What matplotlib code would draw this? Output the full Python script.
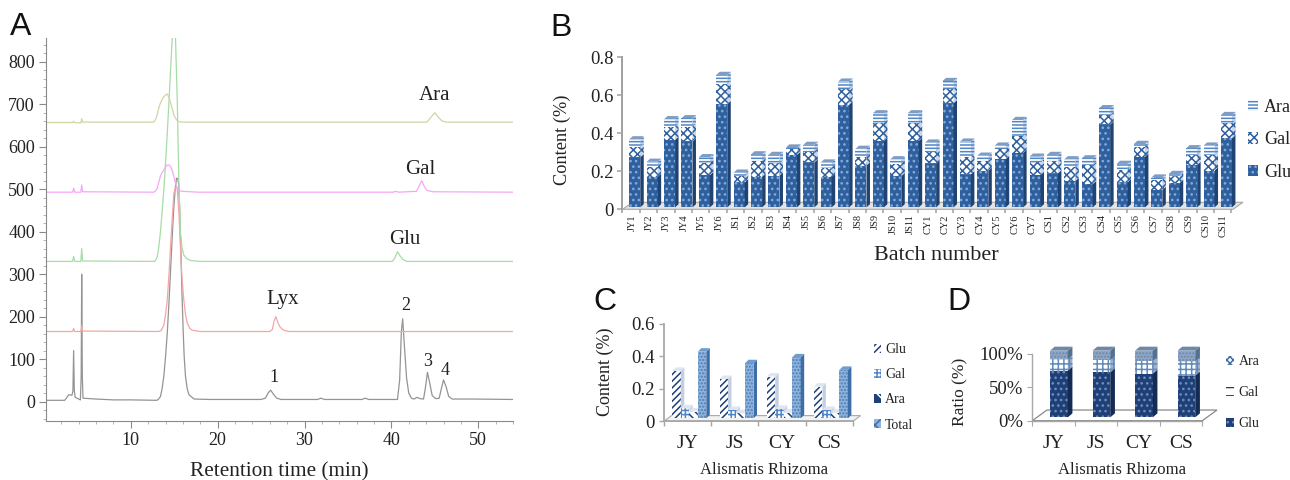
#!/usr/bin/env python3
import matplotlib
matplotlib.use("Agg")
import matplotlib.pyplot as plt
from matplotlib.patches import Patch
from matplotlib.ticker import MultipleLocator

W, H = 1290, 480
plt.rcParams["font.family"] = ["Liberation Serif", "DejaVu Serif"]
plt.rcParams["hatch.linewidth"] = 1.1
TXT = "#222222"

# --- A: chromatograms (retention time / response)
grey_t = [0.3, 2.4, 2.85, 3.23, 3.34, 3.42, 3.5, 3.6, 4.2, 4.29, 4.35, 4.42, 4.5, 6, 8, 10, 13, 13.2, 13.42, 13.6, 13.8, 14.0, 14.2, 14.4, 14.6, 14.8, 14.96, 15.12, 15.27, 15.42, 15.54, 15.63, 15.73, 15.88, 16.04, 16.15, 16.3, 16.5, 16.7, 17.3, 19, 25, 25.5, 25.8, 26.1, 26.4, 26.8, 27.3, 31.5, 31.9, 32.3, 36.6, 37, 37.4, 40.7, 40.95, 41.15, 41.3, 41.5, 41.75, 42, 42.3, 42.6, 42.95, 43.3, 43.7, 43.9, 44.15, 44.4, 44.7, 45.1, 45.5, 45.75, 46, 46.3, 46.6, 47, 49.4, 54]
grey_v = [3, 3, 16, 15, 25, 120, 25, 10, 4, 60, 300, 60, 8, 6, 4, 4, 3, 6, 12, 30, 59, 105, 161, 235, 318, 400, 459, 502, 526, 525, 506, 450, 380, 265, 161, 105, 59, 30, 16, 6, 5, 5, 8, 20, 27, 18, 8, 5, 5, 8, 5, 5, 8, 5, 5, 50, 165, 195, 130, 55, 20, 8, 6, 10, 7, 6, 30, 69, 45, 14, 7, 8, 30, 51, 35, 12, 6, 6, 5]
red_t = [0.3, 3.3, 3.42, 3.55, 4.25, 4.35, 4.45, 13.2, 13.5, 13.8, 14.0, 14.2, 14.4, 14.6, 14.8, 14.96, 15.15, 15.35, 15.55, 15.73, 15.9, 16.1, 16.3, 16.5, 16.8, 17.1, 18, 26, 26.3, 26.5, 26.7, 26.95, 27.2, 27.6, 28.2, 54]
red_v = [165, 165, 172, 165, 165, 178, 166, 165, 167, 180, 205, 240, 300, 373, 440, 490, 505, 502, 440, 357, 290, 240, 205, 185, 172, 168, 165, 165, 170, 190, 200, 185, 175, 168, 165, 165]
green_t = [0.3, 3.3, 3.42, 3.55, 4.25, 4.35, 4.45, 12.73, 12.9, 13.04, 13.2, 13.4, 13.6, 13.8, 14.0, 14.2, 14.4, 14.6, 14.77, 14.95, 15.15, 15.35, 15.54, 15.73, 15.9, 16.1, 16.4, 16.9, 18, 40.1, 40.4, 40.7, 41, 41.3, 41.8, 54]
green_v = [330, 330, 342, 330, 330, 360, 331, 330, 334, 341, 360, 396, 445, 498, 562, 632, 708, 789, 855, 900, 855, 710, 514, 396, 362, 345, 337, 332, 330, 330, 338, 353, 343, 335, 330, 330]
pink_t = [0.3, 3.3, 3.42, 3.55, 4.25, 4.35, 4.45, 12.65, 12.85, 13.04, 13.2, 13.4, 13.6, 13.8, 14.0, 14.2, 14.4, 14.6, 14.8, 14.96, 15.15, 15.35, 15.6, 15.9, 17.8, 40.2, 40.5, 40.8, 42.9, 43.2, 43.5, 43.8, 44.1, 44.8, 54]
pink_v = [493, 493, 502, 493, 493, 510, 494, 493, 496, 502, 515, 530, 539, 545, 552, 557, 557, 553, 542, 530, 514, 502, 497, 495, 493, 493, 495, 493, 495, 508, 520, 506, 497, 494, 493]
olive_t = [0.3, 3.3, 3.42, 3.55, 4.25, 4.35, 4.45, 12.65, 12.85, 13.04, 13.2, 13.4, 13.6, 13.8, 14.0, 14.2, 14.4, 14.6, 14.8, 14.96, 15.15, 15.35, 15.6, 15.9, 44.1, 44.5, 45, 45.4, 45.8, 46.3, 54]
olive_v = [657, 657, 660, 657, 656, 666, 658, 658, 664, 675, 690, 702, 711, 718, 722, 724, 716, 702, 688, 675, 667, 661, 659, 658, 658, 668, 680, 670, 661, 658, 658]

# --- B: batches
batches = ["JY1", "JY2", "JY3", "JY4", "JY5", "JY6",
           "JS1", "JS2", "JS3", "JS4", "JS5", "JS6", "JS7", "JS8", "JS9", "JS10", "JS11",
           "CY1", "CY2", "CY3", "CY4", "CY5", "CY6", "CY7",
           "CS1", "CS2", "CS3", "CS4", "CS5", "CS6", "CS7", "CS8", "CS9", "CS10", "CS11"]
b_glu = [.274, .172, .365, .358, .180, .554, .142, .172, .177, .286, .247, .172, .551, .230, .360, .175, .360,
         .242, .558, .184, .204, .265, .298, .181, .189, .149, .133, .447, .142, .277, .102, .140, .233, .204, .374]
b_gal = [.056, .053, .070, .077, .066, .106, .033, .084, .065, .034, .057, .047, .081, .047, .093, .065, .093,
         .062, .074, .093, .052, .053, .088, .066, .064, .076, .100, .049, .065, .053, .052, .037, .053, .082, .079]
b_ara = [.038, .025, .039, .044, .028, .047, .018, .033, .044, .005, .035, .027, .040, .041, .052, .023, .052,
         .047, .043, .079, .026, .017, .084, .030, .033, .038, .035, .036, .032, .014, .013, .009, .035, .049, .043]

# --- C / D: regions
regions = ["JY", "JS", "CY", "CS"]
c_glu = [.31, .26, .275, .213]
c_gal = [.08, .07, .076, .07]
c_ara = [.06, .05, .053, .053]
c_total = [.428, .357, .393, .316]
d_glu = [70, 67.5, 65.5, 62.5]
d_gal = [17, 18.5, 19, 21.5]
d_ara = [13, 14, 15.5, 16]


def px_axes(fig, left, top, right, bottom):
    ax = fig.add_axes([left / W, 1 - bottom / H, (right - left) / W, (bottom - top) / H])
    ax.patch.set_alpha(0)
    return ax


def bar3d(ax, x, h, bottom, width, dx, dy, face, side, top, hatch=None, hcol="white", side_hatch=None):
    ax.bar(x, h, width=width, bottom=bottom, align="edge", color=face, edgecolor=hcol,
           hatch=hatch, linewidth=0, clip_on=False, zorder=3)
    for xi, hi, bi in zip(x, h, bottom):
        y0, y1 = bi, bi + hi
        xr = xi + width
        ax.fill([xr, xr + dx, xr + dx, xr], [y0, y0 + dy, y1 + dy, y1], facecolor=side,
                edgecolor=hcol, hatch=side_hatch, linewidth=0, clip_on=False, zorder=3)
        ax.fill([xi, xi + dx, xr + dx, xr], [y1, y1 + dy, y1 + dy, y1], facecolor=top,
                linewidth=0, clip_on=False, zorder=3)


def stack(*series):
    out, cum = [], None
    for s in series:
        if cum is None:
            cum = [0.0] * len(s)
        out.append(list(cum))
        cum = [a + b for a, b in zip(cum, s)]
    return out


def floor(ax, x0, x1, dx, dy, face, edge, lw=0.8):
    ax.fill([x0, x1, x1 + dx, x0 + dx], [0, 0, dy, dy], facecolor=face, edgecolor=edge,
            linewidth=lw, clip_on=False, zorder=1)


def style_bar_axes(ax, color, lw):
    for s in ("top", "right"):
        ax.spines[s].set_visible(False)
    for s in ("left", "bottom"):
        ax.spines[s].set_color(color)
        ax.spines[s].set_linewidth(lw)
    ax.tick_params(which="major", color=color, width=lw * 0.8, length=3.5, labelcolor=TXT)


fig = plt.figure(figsize=(W / 100, H / 100), dpi=100, facecolor="white")

# ------------------------------------------------------------------ A
ax = px_axes(fig, 46, 38, 513, 420.7)
for t, v, c in ((grey_t, grey_v, "#949494"), (red_t, red_v, "#f4a6a6"), (green_t, green_v, "#a6dca6"),
                (pink_t, pink_v, "#f7a6f7"), (olive_t, olive_v, "#d3d4a4")):
    ax.plot(t, v, color=c, lw=0.9)
ax.set_xlim(0.24, 54)
ax.set_ylim(-45, 856)
ax.xaxis.set_major_locator(MultipleLocator(10))
ax.xaxis.set_minor_locator(MultipleLocator(2))
ax.yaxis.set_major_locator(MultipleLocator(100))
ax.yaxis.set_minor_locator(MultipleLocator(20))
for s in ("top", "right"):
    ax.spines[s].set_visible(False)
for s in ("left", "bottom"):
    ax.spines[s].set_color("#8a8a8a")
ax.tick_params(which="major", length=5, color="#8a8a8a", labelsize=13, labelcolor=TXT, pad=3)
ax.tick_params(which="minor", length=2.5, color="#a8a8a8")
for txt, x, y in (("Ara", 45, 721), ("Gal", 43.3, 546), ("Glu", 41.5, 381), ("Lyx", 27.5, 240)):
    ax.text(x, y, txt, ha="center", va="center", fontsize=15, color=TXT)
for txt, x, y in (("1", 26.5, 57), ("2", 41.6, 226), ("3", 44.2, 94), ("4", 46.2, 73)):
    ax.text(x, y, txt, ha="center", va="center", fontsize=13, color=TXT)
fig.text(279 / W, 1 - 472 / H, "Retention time (min)", ha="center", va="center", fontsize=15.3, color=TXT)

# ------------------------------------------------------------------ B
ax = px_axes(fig, 622.3, 57.3, 1243, 209.3)
pitch = 17.41
ax.set_xlim(-(629 - 622.3) / pitch, (1243 - 629) / pitch)
ax.set_ylim(0, 0.8)
pos = list(range(len(batches)))
wb, dxb, dyb = 11 / pitch, 3.5 / pitch, 3.2 / 190
base_b = 0.01
floor(ax, ax.get_xlim()[0], (1233 - 629) / pitch, 10 / pitch, 7 / 190, "#e4e4e4", "#a8a8a8")
starts = stack(b_glu, b_gal, b_ara)
bot = [[max(base_b, s) for s in st] for st in starts]
hgt_glu = [g - base_b for g in b_glu]
bar3d(ax, pos, hgt_glu, bot[0], wb, dxb, dyb, "#2e5f9e", "#1f4372", "#6f90bd", hatch="...", hcol="#86a9d4")
bar3d(ax, pos, b_gal, bot[1], wb, dxb, dyb, "white", "#c8d6ea", "#6f90bd", hatch="xxxx", hcol="#2e5f9e", side_hatch="xxxx")
bar3d(ax, pos, b_ara, bot[2], wb, dxb, dyb, "white", "#c8d6ea", "#7f9cc4", hatch="-----", hcol="#4f86c8", side_hatch="-----")
style_bar_axes(ax, "#a0a0a0", 1.4)
ax.spines["bottom"].set_visible(False)
ax.set_yticks([0, .2, .4, .6, .8], ["0", "0.2", "0.4", "0.6", "0.8"])
ax.tick_params(axis="y", labelsize=13.5, pad=3)
ax.set_xticks([p - 0.5 + 0.1 for p in pos] + [len(pos) - 0.4], [""] * (len(pos) + 1))
ax.set_xticks([p + 0.15 for p in pos], batches, minor=True, rotation=90, fontsize=7.5, color=TXT)
ax.tick_params(axis="x", which="minor", length=0, pad=3.5)
ax.tick_params(axis="x", which="major", length=3, color="#a0a0a0")
ax.legend(handles=[Patch(facecolor="white", edgecolor="#4f86c8", hatch="-----", lw=0, label="Ara"),
                   Patch(facecolor="white", edgecolor="#2e5f9e", hatch="xxxx", lw=0, label="Gal"),
                   Patch(facecolor="#2e5f9e", edgecolor="#86a9d4", hatch="...", lw=0, label="Glu")],
          loc="upper left", bbox_to_anchor=(1248 / W, 1 - 99 / H), bbox_transform=fig.transFigure, frameon=False,
          fontsize=13, handlelength=0.55, handleheight=0.6, handletextpad=0.35, labelspacing=0.85,
          borderpad=0, borderaxespad=0, labelcolor=TXT)
fig.text(562 / W, 1 - 140 / H, "Content (%)", rotation=90, ha="center", va="center", fontsize=13.2, color=TXT)
fig.text(936 / W, 1 - 256 / H, "Batch number", ha="center", va="center", fontsize=15.9, color=TXT)

# ------------------------------------------------------------------ C
ax = px_axes(fig, 664, 323.7, 860, 421.3)
pg = 47.2
ax.set_xlim(0, (860 - 664) / pg)
ax.set_ylim(0, 0.6)
wc, dxc, dyc = 8.5 / pg, 3.5 / pg, 3.5 / 162.7
base_c = 0.018
floor(ax, 0, 189 / pg, 7.5 / pg, 0.035, "#f2f2f2", "#a8a8a8")
c_series = ((c_glu, "white", "#c4d0e2", "/////", "#1f3f78"),
            (c_gal, "white", "#c8d6ea", "++++", "#4f86c8"),
            (c_ara, "white", "#c4d0e2", "\\\\\\\\", "#1f3f78"),
            (c_total, "#8fb4de", "#4f7fb6", ".....", "#4f7fb6"))
for j, (vals, side, topc, hatch, hc) in enumerate(c_series):
    xs = [g + 0.176 + j * 0.18 for g in range(4)]
    bar3d(ax, xs, [v - base_c for v in vals], [base_c] * 4, wc, dxc, dyc, side if j < 3 else "#8fb4de",
          topc if j < 3 else "#3f6ea6", "#dfe6f0" if j < 3 else "#6f9ccc", hatch=hatch, hcol=hc)
style_bar_axes(ax, "#a8a8a8", 1.3)
ax.spines["bottom"].set_bounds(0, 189 / pg)
ax.set_yticks([0, .2, .4, .6], ["0", "0.2", "0.4", "0.6"])
ax.tick_params(axis="y", labelsize=13.5, pad=3)
ax.set_xticks([0, 1, 2, 3, 4], [""] * 5)
ax.set_xticks([g + 0.5 for g in range(4)], regions, minor=True, fontsize=14, color=TXT)
ax.tick_params(axis="x", which="minor", length=0, pad=10)
ax.legend(handles=[Patch(facecolor="white", edgecolor="#1f3f78", hatch="/////", lw=0, label="Glu"),
                   Patch(facecolor="white", edgecolor="#4f86c8", hatch="++++", lw=0, label="Gal"),
                   Patch(facecolor="#1f3f78", edgecolor="white", hatch="\\\\", lw=0, label="Ara"),
                   Patch(facecolor="#8fb4de", edgecolor="#3f6ea6", hatch="xx", lw=0, label="Total")],
          loc="upper left", bbox_to_anchor=(874 / W, 1 - 343 / H), bbox_transform=fig.transFigure, frameon=False,
          fontsize=10, handlelength=0.5, handleheight=0.6, handletextpad=0.3, labelspacing=0.88,
          borderpad=0, borderaxespad=0, labelcolor=TXT)
fig.text(605.7 / W, 1 - 372 / H, "Content (%)", rotation=90, ha="center", va="center", fontsize=13, color=TXT)
fig.text(764 / W, 1 - 470 / H, "Alismatis Rhizoma", ha="center", va="center", fontsize=12, color=TXT)

# ------------------------------------------------------------------ D
ax = px_axes(fig, 1032.3, 354, 1217, 420.7)
pg = 42.5
ax.set_xlim(0, (1217 - 1032.3) / pg)
ax.set_ylim(0, 100)
wd, dxd, dyd = 17.7 / pg, 4.7 / pg, 6
base_d = 5
floor(ax, 0, 170 / pg, 14.7 / pg, 16, "none", "#8a8a8a", lw=0.9)
xs = [g + 0.417 for g in range(4)]
st = stack(d_glu, d_gal, d_ara)
bar3d(ax, xs, d_glu, [s + base_d for s in st[0]], wd, dxd, dyd, "#1f3f78", "#142b54", "#142b54", hatch="...", hcol="#6f8cb4")
bar3d(ax, xs, d_gal, [s + base_d for s in st[1]], wd, dxd, dyd, "white", "#9fb0c8", "#8fa5c4", hatch="+++", hcol="#5f8abc", side_hatch="+++")
bar3d(ax, xs, d_ara, [s + base_d for s in st[2]], wd, dxd, dyd, "#8fa8c8", "#54708f", "#6f88a8", hatch=".....", hcol="#6f88a8")
style_bar_axes(ax, "#a8a8a8", 1.0)
ax.spines["bottom"].set_bounds(0, 170 / pg)
ax.set_yticks([0, 50, 100], ["0%", "50%", "100%"])
ax.tick_params(axis="y", labelsize=13.5, pad=3)
ax.set_xticks([0, 1, 2, 3, 4], [""] * 5)
ax.set_xticks([g + 0.5 for g in range(4)], regions, minor=True, fontsize=14, color=TXT)
ax.tick_params(axis="x", which="minor", length=0, pad=10)
ax.legend(handles=[Patch(facecolor="white", edgecolor="#3f6ea6", hatch="xxxxx", lw=0, label="Ara"),
                   Patch(facecolor="white", edgecolor="#1f3f78", hatch="--", lw=0, label="Gal"),
                   Patch(facecolor="#1f3f78", edgecolor="#6f8cb4", hatch="...", lw=0, label="Glu")],
          loc="upper left", bbox_to_anchor=(1226 / W, 1 - 355 / H), bbox_transform=fig.transFigure, frameon=False,
          fontsize=10, handlelength=0.6, handleheight=0.6, handletextpad=0.3, labelspacing=1.3,
          borderpad=0, borderaxespad=0, labelcolor=TXT)
fig.text(960 / W, 1 - 391.7 / H, "Ratio (%)", rotation=90, ha="center", va="center", fontsize=12.5, color=TXT)
fig.text(1121.7 / W, 1 - 470 / H, "Alismatis Rhizoma", ha="center", va="center", fontsize=12, color=TXT)

# panel letters
for txt, x, y in (("A", 21, 27), ("B", 561.5, 28), ("C", 605, 302.5), ("D", 959, 301.5)):
    fig.text(x / W, 1 - y / H, txt, family="Liberation Sans", ha="center", va="center", fontsize=23, color="#111111")

fig.savefig("out.png", dpi=100)
